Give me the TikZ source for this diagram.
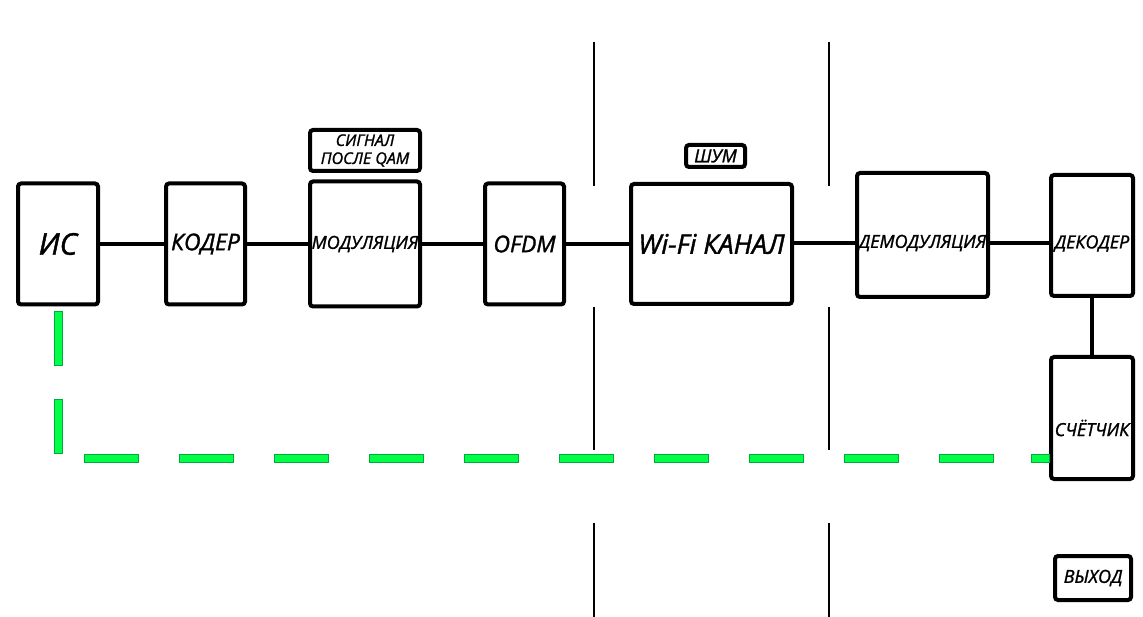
\documentclass[tikz,border=0pt]{standalone}
\usepackage{fontspec}
\setmainfont{Open Sans}[ItalicFeatures={FakeBold=1.4}]
\newcommand{\fs}[1]{\itshape\fontsize{#1}{#1}\selectfont}
\begin{document}
\begin{tikzpicture}[x=1pt,y=-1pt,
  box/.style={draw=black,line width=4pt,rounded corners=3pt,fill=white,inner sep=0pt,font=\fs{18}},
  conn/.style={line width=4pt,draw=black},
  sep/.style={line width=1.3pt,draw=black},
  gdash/.style={fill={rgb,255:red,0;green,255;blue,70},draw={rgb,255:red,0;green,170;blue,60},line width=0.8pt}]
\useasboundingbox[fill=white] (0,0) rectangle (1143,617);
% separators
\foreach \x in {594,829}{
  \draw[sep] (\x,42) -- (\x,186);
  \draw[sep] (\x,307) -- (\x,450);
  \draw[sep] (\x,523) -- (\x,617);
}
\coordinate (row) at (0,243.5);
\node[box,minimum width=80pt,minimum height=121pt,font=\fs{30}] (is) at (58,244) {ИС};
\node[box,minimum width=79pt,minimum height=121pt,font=\fs{23}] (koder) at (205.5,244) {КОДЕР};
\node[box,minimum width=110pt,minimum height=125pt] (mod) at (365,244) {МОДУЛЯЦИЯ};
\node[box,minimum width=110pt,minimum height=41pt,align=center,font={\itshape\fontsize{16}{18}\selectfont}] (qam) at (365,150.5) {СИГНАЛ\\ПОСЛЕ QAM};
\node[box,minimum width=79pt,minimum height=121pt,font=\fs{23}] (ofdm) at (524.5,244) {OFDM};
\node[box,minimum width=161pt,minimum height=120pt,font=\fs{27}] (wifi) at (711.5,244) {Wi-Fi КАНАЛ};
\node[box,minimum width=59pt,minimum height=22pt] (shum) at (715.5,156) {ШУМ};
\node[box,minimum width=131pt,minimum height=124pt,label={[font=\fs{18},yshift=-8pt]center:ДЕМОДУЛЯЦИЯ}] (demod) at (922.5,235) {};
\node[box,minimum width=82pt,minimum height=121pt,label={[font=\fs{18},yshift=-8pt]center:ДЕКОДЕР}] (dekoder) at (1092,235.5) {};
\node[box,minimum width=82pt,minimum height=122pt,label={[font=\fs{18},yshift=-10pt]center:СЧЁТЧИК}] (schet) at (1092,418) {};
\node[box,minimum width=76pt,minimum height=44pt] (vyhod) at (1093,578) {ВЫХОД};
% connectors
\draw[conn] (is.east) -- (koder.west);
\draw[conn] (koder.east) -- (mod.west);
\draw[conn] (mod.east) -- (ofdm.west);
\draw[conn] (ofdm.east) -- (wifi.west);
\draw[conn] (wifi.east |- row) -- (demod.west |- row);
\draw[conn] (demod.east |- row) -- (dekoder.west |- row);
\draw[conn] (dekoder.south) -- (schet.north);
% green dashed feedback line
\foreach \y in {311,399}{ \draw[gdash] (54,\y) rectangle (62,\y+54); }
\foreach \x in {84,179,...,939}{ \draw[gdash] (\x,454) rectangle (\x+54,462); }
\draw[gdash] (1031,454) rectangle (schet.west |- 0,462);
\end{tikzpicture}
\end{document}
